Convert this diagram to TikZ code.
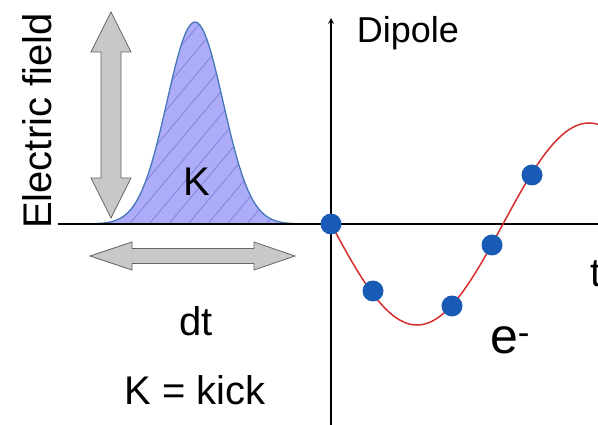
\documentclass[tikz,border=0pt]{standalone}
\usepackage{fontspec}
\setmainfont{Liberation Sans}
\usetikzlibrary{arrows,patterns.meta}

\definecolor{pulsefill}{RGB}{172,172,248}
\definecolor{pulseline}{RGB}{70,120,185}
\definecolor{hatch}{RGB}{130,130,222}
\definecolor{dipred}{RGB}{215,45,45}
\definecolor{dotblue}{RGB}{25,90,180}
\definecolor{arrowgray}{RGB}{200,200,200}

\begin{document}
\begin{tikzpicture}[
  x=1pt, y=-1pt,
  every node/.style={font=\fontsize{40}{44}\selectfont, inner sep=0pt},
  fatarrow/.style={draw=gray!80!black, fill=arrowgray, line width=0.8pt, line join=miter},
  axis/.style={black, line width=1.6pt},
  dot/.style={circle, fill=dotblue, minimum size=21pt},
  wave/.style={dipred, line width=1.5pt}
]
  \useasboundingbox (0,0) rectangle (598,425);

  % kick pulse
  \fill[pulsefill] plot[domain=58:330, samples=120] (\x,{224-202*exp(-((\x-195)/28)^2/2)}) -- cycle;
  \fill[pattern={Lines[angle=50, distance=15pt, line width=0.8pt]}, pattern color=hatch]
    plot[domain=58:330, samples=120] (\x,{224-202*exp(-((\x-195)/28)^2/2)}) -- cycle;
  \draw[pulseline, line width=1.3pt] plot[domain=58:330, samples=120] (\x,{224-202*exp(-((\x-195)/28)^2/2)});

  % size arrows
  \draw[fatarrow] (111,12) -- (131,52) -- (121,52) -- (121,178) -- (131,178) -- (111,218)
    -- (91,178) -- (101,178) -- (101,52) -- (91,52) -- cycle;
  \draw[fatarrow] (90,256) -- (132,242) -- (132,248.5) -- (254,248.5) -- (254,242) -- (295,256)
    -- (254,270) -- (254,263.5) -- (132,263.5) -- (132,270) -- cycle;

  % axes
  \draw[axis] (58,224) -- (598,224);
  \draw[axis, ->, >=stealth] (331,425) -- (331,18);

  % dipole response
  \draw[wave] plot[domain=331:598, samples=120] (\x,{224+101*sin((\x-331)/344*360)});

  \node[dot] (p0) at (331,224) {};
  \node[dot] (p1) at (373,291) {};
  \node[dot] (p2) at (452,306) {};
  \node[dot] (p3) at (492,245) {};
  \node[dot] (p4) at (532,175) {};

  \node[rotate=90] (field) at (37,121) {Electric field};
  \node (kick) at (197,182) {K};
  \node (dt) at (196,321) {dt};
  \node (kdef) at (195,390) {K = kick};
  \node[font=\fontsize{36}{40}\selectfont] (dipole) at (408,33) {Dipole};
  \node[font=\fontsize{50}{54}\selectfont] (elec) at (510,340) {e\textsuperscript{-}};
  \node[anchor=west] (time) at (590,274) {t};
\end{tikzpicture}
\end{document}
